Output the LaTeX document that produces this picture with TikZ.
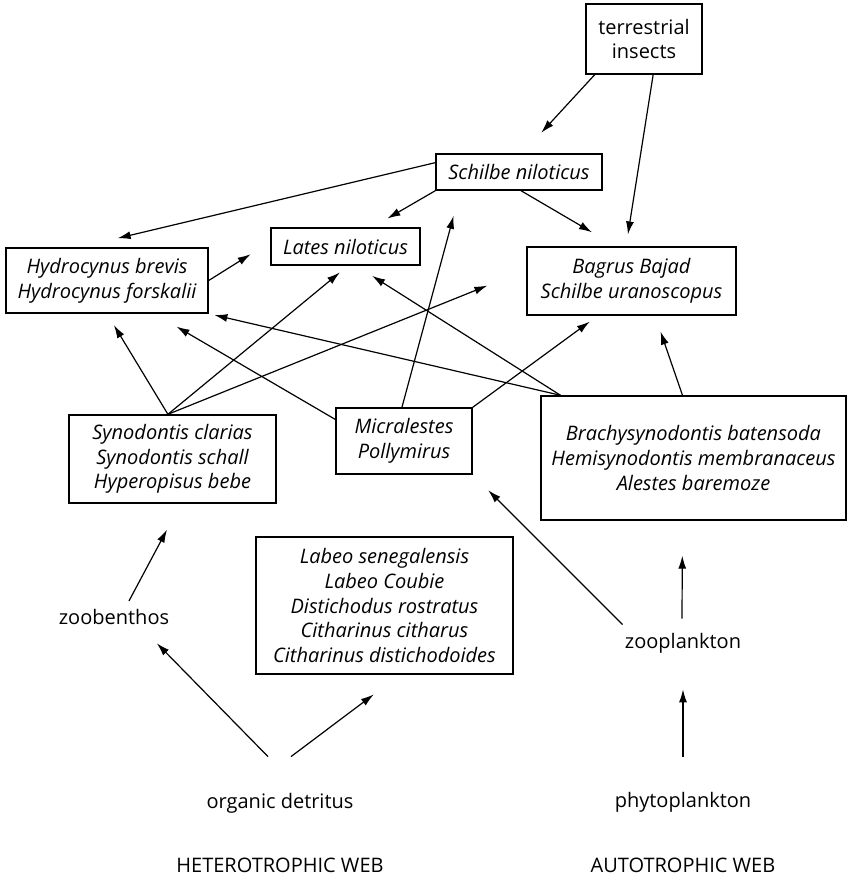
\documentclass[tikz,border=0pt]{standalone}
\usepackage{fontspec}
\setmainfont{Open Sans}
\usetikzlibrary{arrows.meta,calc}

\begin{document}
\begin{tikzpicture}[x=0.5pt,y=-0.5pt,
  lbl/.style={inner sep=1pt,font=\fontsize{10}{12.4}\selectfont},
  box/.style={draw,line width=0.7pt,align=center,inner sep=2pt,font=\fontsize{10}{12.4}\selectfont},
  sp/.style={box,font=\fontsize{10}{12.4}\selectfont\itshape},
  feed/.style={-{Latex[length=6.5pt,width=4pt]},line width=0.6pt}]
\useasboundingbox (0,0) rectangle (848,878);

% fish and insect boxes
\node[box,minimum width=58pt,minimum height=35pt] (ins) at (644,39) {terrestrial\\insects};
\node[sp,minimum width=83pt,minimum height=18pt] (snil) at (519,172) {Schilbe niloticus};
\node[sp,minimum width=74.5pt,minimum height=18.5pt] (lat) at (345.5,246.5) {Lates niloticus};
\node[sp,minimum width=101pt,minimum height=32.5pt] (hyd) at (107,280.5) {Hydrocynus brevis\\Hydrocynus forskalii};
\node[sp,minimum width=104.5pt,minimum height=34pt] (bag) at (631.5,281) {Bagrus Bajad\\Schilbe uranoscopus};
\node[sp,minimum width=103.5pt,minimum height=44pt] (syn) at (172.5,459) {Synodontis clarias\\Synodontis schall\\Hyperopisus bebe};
\node[sp,minimum width=68pt,minimum height=33pt] (mic) at (404,441) {Micralestes\\Pollymirus};
\node[sp,minimum width=152.5pt,minimum height=62pt] (bra) at (693.5,458) {Brachysynodontis batensoda\\Hemisynodontis membranaceus\\Alestes baremoze};
\node[sp,minimum width=128.5pt,minimum height=68.5pt] (lab) at (384.5,605.5) {Labeo senegalensis\\Labeo Coubie\\Distichodus rostratus\\Citharinus citharus\\Citharinus distichodoides};

% plain labels
\node[lbl] (zoob) at (114,617) {zoobenthos};
\node[lbl] (det) at (280,803) {organic detritus};
\node[lbl] (zoopl) at (683,643) {zooplankton};
\node[lbl] (phyto) at (683,802) {phytoplankton};
\node[lbl] (het) at (280,865) {HETEROTROPHIC WEB};
\node[lbl] (aut) at (683,865) {AUTOTROPHIC WEB};

% feeding links
\draw[feed,shorten >=14pt] ($(ins.south west)!0.08!(ins.south east)$) -- ($(snil.north west)!0.52!(snil.north east)$);
\draw[feed,shorten >=6pt] ($(ins.south west)!0.578!(ins.south east)$) -- ($(bag.north west)!0.474!(bag.north east)$);
\draw[feed,shorten >=19.5pt] ($(snil.north west)!0.25!(snil.south west)$) -- ($(hyd.north west)!0.366!(hyd.north east)$);
\draw[feed,shorten >=8.75pt] (snil.south west) -- ($(lat.north west)!0.678!(lat.north east)$);
\draw[feed,shorten >=13.9pt] ($(snil.south west)!0.512!(snil.south east)$) -- ($(bag.north west)!0.426!(bag.north east)$);
\draw[feed,shorten >=11.6pt] (hyd.east) -- ($(lat.north west)!0.38!(lat.south west)$);
\draw[feed,shorten >=6.7pt] ($(syn.north west)!0.478!(syn.north east)$) -- (hyd.south);
\draw[feed,shorten >=5.3pt] ($(syn.north west)!0.478!(syn.north east)$) -- ($(lat.south west)!0.517!(lat.south east)$);
\draw[feed,shorten >=21pt] ($(syn.north west)!0.478!(syn.north east)$) -- ($(bag.north west)!0.34!(bag.south west)$);
\draw[feed,shorten >=12.8pt] ($(mic.north west)!0.18!(mic.south west)$) -- ($(hyd.south west)!0.733!(hyd.south east)$);
\draw[feed,shorten >=13pt] ($(mic.north west)!0.485!(mic.north east)$) -- ($(snil.south west)!0.15!(snil.south east)$);
\draw[feed,shorten >=5pt] (mic.north east) -- ($(bag.south west)!0.34!(bag.south east)$);
\draw[feed,shorten >=2.9pt] ($(bra.north west)!0.066!(bra.north east)$) -- (hyd.south east);
\draw[feed,shorten >=9.5pt] ($(bra.north west)!0.066!(bra.north east)$) -- ($(lat.south west)!0.57!(lat.south east)$);
\draw[feed,shorten >=8.4pt] ($(bra.north west)!0.464!(bra.north east)$) -- ($(bag.south west)!0.612!(bag.south east)$);
\draw[feed,shorten >=11pt] ($(zoopl.north west)+(0,-6)$) -- (mic.south east);
\draw[feed,shorten >=17.5pt] ($(zoopl.north)+(-1,-12)$) -- ($(bra.south west)!0.464!(bra.south east)$);
\draw[feed,shorten <=16.5pt,shorten >=17pt] (phyto) -- (zoopl);
\draw[feed,shorten >=14.7pt] ($(zoob.north)+(15,-6)$) -- ($(syn.south west)!0.54!(syn.south east)$);
\draw[feed,shorten >=11.3pt] ($(det.north)+(-12,-34)$) -- ($(zoob.south)+(27,0)$);
\draw[feed,shorten >=16.4pt] ($(det.north)+(11,-34)$) -- ($(lab.south west)!0.56!(lab.south east)$);

\end{tikzpicture}
\end{document}
